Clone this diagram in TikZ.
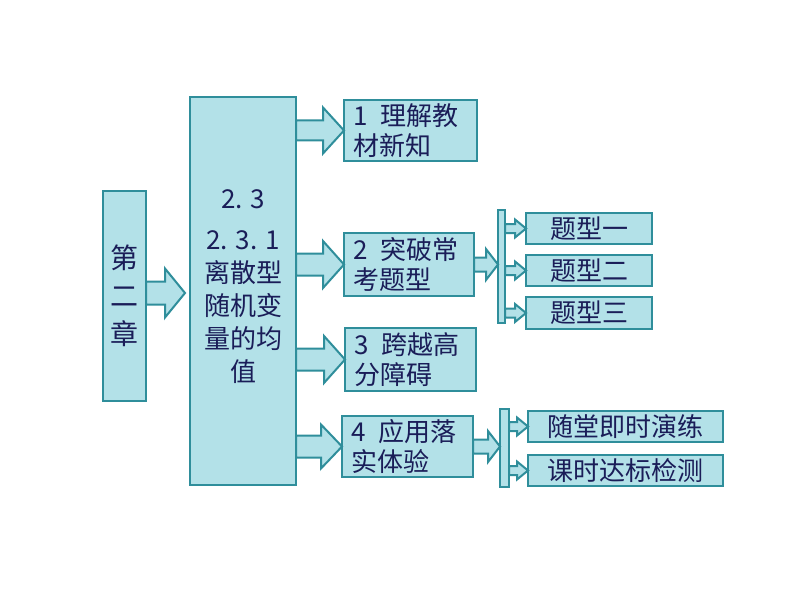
\documentclass[tikz,border=0pt]{standalone}
\usepackage{fontspec}
\newfontfamily\cjk{Noto Sans CJK SC}
\usetikzlibrary{calc}
\definecolor{boxfill}{HTML}{B3E1E8}
\definecolor{boxedge}{HTML}{2F8E9B}
\definecolor{txt}{HTML}{1A1D58}
\tikzset{
  box/.style={draw=boxedge, line width=2.4pt, fill=boxfill, inner sep=0pt, outer sep=0pt,
    text=txt, font=\cjk\fontsize{26}{30}\selectfont},
  bar/.style={draw=boxedge, line width=2pt, fill=boxfill, inner sep=0pt, outer sep=0pt},
  blk/.style={draw=boxedge, line width=2pt, fill=boxfill, line join=miter},
  lbl/.style={text=txt, font=\cjk\fontsize{26}{33}\selectfont, align=center, inner sep=0pt}
}
\newcommand\blockarr[5]{%
  \draw[blk] let \p1=(#1), \p2=(#2) in
    (\x1,\y1+#3pt) -- (\x2-#5pt,\y1+#3pt) -- (\x2-#5pt,\y1+#4pt) -- (\x2,\y1)
    -- (\x2-#5pt,\y1-#4pt) -- (\x2-#5pt,\y1-#3pt) -- (\x1,\y1-#3pt) -- cycle;}
\begin{document}
\begin{tikzpicture}[x=1pt,y=-1pt]
\useasboundingbox (0,0) rectangle (794,596);
\fill[white] (0,0) rectangle (794,596);
% boxes
\node[box, minimum width=43pt, minimum height=210pt, align=center,
  font=\cjk\fontsize{28}{38}\selectfont] (ch) at (124.5,296) {第\\二\\章};
\node[box, minimum width=106pt, minimum height=388pt] (big) at (243,291) {};
\node[lbl] (bigtext) at (243,287) {2. 3\\[8pt]2. 3. 1\\离散型\\随机变\\量的均\\值};
\node[box, minimum width=133pt, minimum height=61pt, text width=115pt, align=left] (b1) at (410.5,130.5) {1\hspace{0.5em}理解教\\材新知};
\node[box, minimum width=130pt, minimum height=63pt, text width=112pt, align=left] (b2) at (409,264.5) {2\hspace{0.5em}突破常\\考题型};
\node[box, minimum width=131pt, minimum height=63pt, text width=113pt, align=left] (b3) at (410.5,359.5) {3\hspace{0.5em}跨越高\\分障碍};
\node[box, minimum width=131pt, minimum height=61pt, text width=113pt, align=left] (b4) at (407.5,446.5) {4\hspace{0.5em}应用落\\实体验};
\node[bar, minimum width=7pt, minimum height=113pt] (bar1) at (501.5,266.5) {};
\node[box, minimum width=126pt, minimum height=31pt] (t1) at (589,228.5) {题型一};
\node[box, minimum width=126pt, minimum height=31pt] (t2) at (589,270.5) {题型二};
\node[box, minimum width=126pt, minimum height=32pt] (t3) at (589,313) {题型三};
\node[bar, minimum width=9pt, minimum height=78pt] (bar2) at (504.5,448) {};
\node[box, minimum width=195pt, minimum height=31pt] (s1) at (625.5,426.5) {随堂即时演练};
\node[box, minimum width=195pt, minimum height=31pt] (s2) at (625.5,470.5) {课时达标检测};
% arrows
\coordinate (a0) at ($(ch.east)+(0,-3)$);
\coordinate (a0end) at ($(big.west |- a0)+(-5,0)$);
\blockarr{a0}{a0end}{11.5}{24.5}{20}
\blockarr{big.east |- b1.west}{b1.west}{10}{23}{21}
\blockarr{big.east |- b2.west}{b2.west}{11}{23.5}{21}
\blockarr{big.east |- b3.west}{b3.west}{11}{23.5}{21}
\blockarr{big.east |- b4.west}{b4.west}{11}{22}{21}
\blockarr{b2.east}{bar1.west |- b2.east}{7}{15.5}{12}
\blockarr{b4.east}{bar2.west |- b4.east}{7}{15.5}{12}
\blockarr{bar1.east |- t1.west}{t1.west}{4.5}{9}{11}
\blockarr{bar1.east |- t2.west}{t2.west}{4.5}{9}{11}
\blockarr{bar1.east |- t3.west}{t3.west}{4.5}{9}{11}
\blockarr{bar2.east |- s1.west}{s1.west}{4.5}{9}{11}
\blockarr{bar2.east |- s2.west}{s2.west}{4.5}{9}{11}
\end{tikzpicture}
\end{document}
